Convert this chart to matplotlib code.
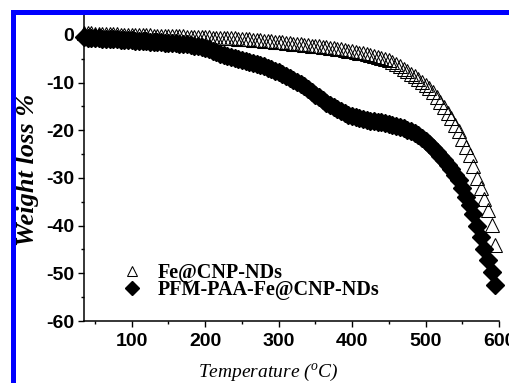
import numpy as np
import matplotlib
matplotlib.use('Agg')
import matplotlib.pyplot as plt
from matplotlib.patches import Rectangle

plt.rcParams['axes.unicode_minus'] = False
plt.rcParams['mathtext.fontset'] = 'custom'
plt.rcParams['mathtext.it'] = 'Liberation Serif:italic'
plt.rcParams['mathtext.rm'] = 'Liberation Serif'

# temperature grid (deg C), one reading every 5 degrees
temps = np.arange(35, 600, 5)

# Fe@CNP-NDs weight loss (%)
fe_cnp = [
    0.4, 0.37, 0.34, 0.3, 0.27, 0.24, 0.21, 0.18, 0.15, 0.12,
    0.09, 0.06, 0.03, 0.0, -0.02, -0.04, -0.06, -0.08, -0.1, -0.12,
    -0.14, -0.16, -0.18, -0.2, -0.23, -0.26, -0.29, -0.32, -0.35, -0.38,
    -0.41, -0.44, -0.47, -0.5, -0.52, -0.54, -0.56, -0.58, -0.6, -0.64,
    -0.68, -0.72, -0.76, -0.8, -0.86, -0.92, -0.98, -1.04, -1.1, -1.18,
    -1.26, -1.34, -1.42, -1.5, -1.58, -1.66, -1.74, -1.82, -1.9, -1.98,
    -2.06, -2.14, -2.22, -2.3, -2.4, -2.5, -2.6, -2.7, -2.8, -2.92,
    -3.04, -3.16, -3.28, -3.4, -3.56, -3.72, -3.88, -4.04, -4.2, -4.42,
    -4.64, -4.86, -5.08, -5.3, -5.7, -6.1, -6.6, -7.1, -7.6, -8.1,
    -8.6, -9.2, -9.8, -10.4, -11.2, -12.0, -13.0, -14.0, -15.1, -16.3,
    -17.5, -18.8, -20.2, -21.8, -23.4, -25.2, -27.5, -30.0, -32.2, -34.4,
    -36.8, -39.8, -44.0,
]

# PFM-PAA-Fe@CNP-NDs weight loss (%)
pfm_paa = [
    -0.5, -0.55, -0.6, -0.65, -0.7, -0.75, -0.8, -0.85, -0.9, -0.95,
    -1.0, -1.05, -1.1, -1.15, -1.2, -1.25, -1.3, -1.35, -1.4, -1.45,
    -1.5, -1.55, -1.6, -1.65, -1.72, -1.79, -1.86, -1.93, -2.0, -2.1,
    -2.25, -2.4, -2.55, -2.7, -3.0, -3.3, -3.6, -3.9, -4.2, -4.4,
    -4.6, -4.8, -5.0, -5.2, -5.4, -5.6, -5.85, -6.05, -6.3, -6.6,
    -6.9, -7.2, -7.5, -7.8, -8.2, -8.6, -9.0, -9.4, -9.8, -10.3,
    -10.8, -11.4, -12.0, -12.6, -13.1, -13.7, -14.2, -14.7, -15.2, -15.6,
    -16.0, -16.4, -16.7, -17.0, -17.2, -17.4, -17.6, -17.8, -18.0, -18.1,
    -18.2, -18.35, -18.5, -18.6, -18.8, -19.0, -19.3, -19.6, -19.9, -20.2,
    -20.6, -21.0, -21.6, -22.2, -22.9, -23.7, -24.5, -25.3, -26.2, -27.2,
    -28.2, -29.3, -30.5, -32.2, -34.0, -35.6, -37.5, -40.0, -42.4, -44.8,
    -47.3, -49.8, -52.5,
]

labels = ['Fe@CNP-NDs', 'PFM-PAA-Fe@CNP-NDs']

fig = plt.figure(figsize=(5.1, 3.83), dpi=100)
ax = fig.add_axes([84 / 510, 1 - 321 / 383, 415 / 510, 307.5 / 383])

ax.plot(temps, fe_cnp, linestyle='none', marker='^', markersize=9.5,
        markerfacecolor='none', markeredgecolor='black', markeredgewidth=0.75,
        clip_on=False, label=labels[0])
ax.plot(temps, pfm_paa, linestyle='none', marker='D', markersize=9.3,
        color='black', clip_on=False, label=labels[1])

ax.set_xlim(35, 600)
ax.set_ylim(-60, 4.5)
ax.set_xticks(range(100, 601, 100))
ax.set_xticks(range(50, 600, 100), minor=True)
ax.set_yticks(range(-60, 1, 10))
ax.set_yticks(range(-55, 1, 10), minor=True)

for s in ['top', 'right']:
    ax.spines[s].set_visible(False)
for s in ['left', 'bottom']:
    ax.spines[s].set_linewidth(1.1)

ax.tick_params(which='major', direction='out', length=4, width=1)
ax.tick_params(which='minor', direction='out', length=2.3, width=1)
ax.tick_params(axis='x', pad=5)
ax.tick_params(axis='y', pad=3)
for lab in ax.get_xticklabels() + ax.get_yticklabels():
    lab.set_family('Liberation Sans')
    lab.set_fontweight('bold')
    lab.set_fontsize(14)

ax.set_xlabel(r'Temperature ($^o$C)', family='Liberation Serif',
              fontstyle='italic', fontsize=14)
ax.xaxis.set_label_coords(0.443, -0.133)
ax.set_ylabel('Weight loss %', family='Liberation Serif', fontstyle='italic',
              fontweight='bold', fontsize=19)
ax.yaxis.set_label_coords(-0.108, 0.49)

leg = ax.legend(loc='upper left', bbox_to_anchor=(0.068, 0.222), frameon=False,
                borderpad=0, handlelength=1.0, handletextpad=0.75,
                labelspacing=-0.15,
                prop={'family': 'Liberation Serif', 'weight': 'bold',
                      'size': 14.5})
leg.legend_handles[0].set_markersize(7.2)
leg.legend_handles[1].set_markersize(7.2)

# blue frame around the figure
fig.patches.append(Rectangle((13.5 / 510, 1 - 384.5 / 383), 1.1,
                             (384.5 - 11.5) / 383, transform=fig.transFigure,
                             fill=False, edgecolor='#0000FF', linewidth=3.6,
                             clip_on=False))

fig.savefig('out.png', dpi=100)
